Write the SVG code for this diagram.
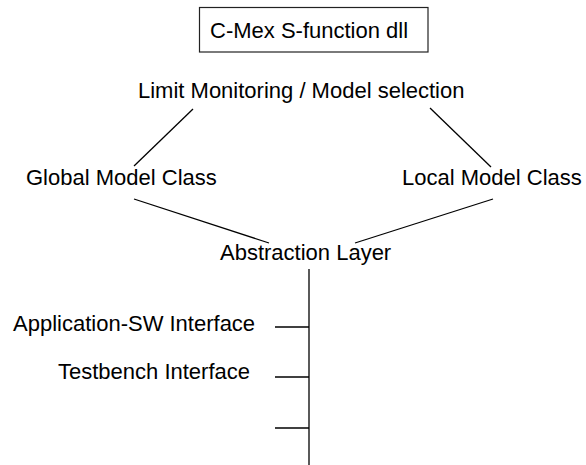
<svg xmlns="http://www.w3.org/2000/svg" width="586" height="465" viewBox="0 0 586 465">
  <style>
    .lbl { font-family: "Liberation Sans", Arial, sans-serif; font-size: 22px; fill: #000; }
    .box { fill: #fff; stroke: #222; stroke-width: 1.2; }
    .edge { stroke: #000; stroke-width: 1.3; fill: none; }
  </style>
  <rect width="586" height="465" fill="#fff"/>

  <!-- tree links and the interface bus -->
  <g id="connectors">
    <line class="edge" x1="193" y1="109" x2="134" y2="166"/>
    <line class="edge" x1="430" y1="108" x2="491" y2="167"/>
    <line class="edge" x1="134" y1="199" x2="269" y2="243"/>
    <line class="edge" x1="493" y1="199" x2="355" y2="243"/>
    <line class="edge" x1="309" y1="269" x2="309" y2="465"/>
    <line class="edge" x1="275" y1="327" x2="309" y2="327"/>
    <line class="edge" x1="275" y1="377" x2="309" y2="377"/>
    <line class="edge" x1="275" y1="428" x2="309" y2="428"/>
  </g>

  <g id="cmex">
    <rect class="box" x="199.5" y="7.5" width="228.5" height="44.5"/>
    <text class="lbl" x="210" y="38">C-Mex S-function dll</text>
  </g>
  <g id="limit-monitoring">
    <text class="lbl" x="138" y="98">Limit Monitoring / Model selection</text>
  </g>
  <g id="global-model">
    <text class="lbl" x="26" y="185">Global Model Class</text>
  </g>
  <g id="local-model">
    <text class="lbl" x="402" y="185">Local Model Class</text>
  </g>
  <g id="abstraction">
    <text class="lbl" x="220" y="260">Abstraction Layer</text>
  </g>
  <g id="app-sw">
    <text class="lbl" x="13" y="331">Application-SW Interface</text>
  </g>
  <g id="testbench">
    <text class="lbl" x="58" y="379">Testbench Interface</text>
  </g>
</svg>
